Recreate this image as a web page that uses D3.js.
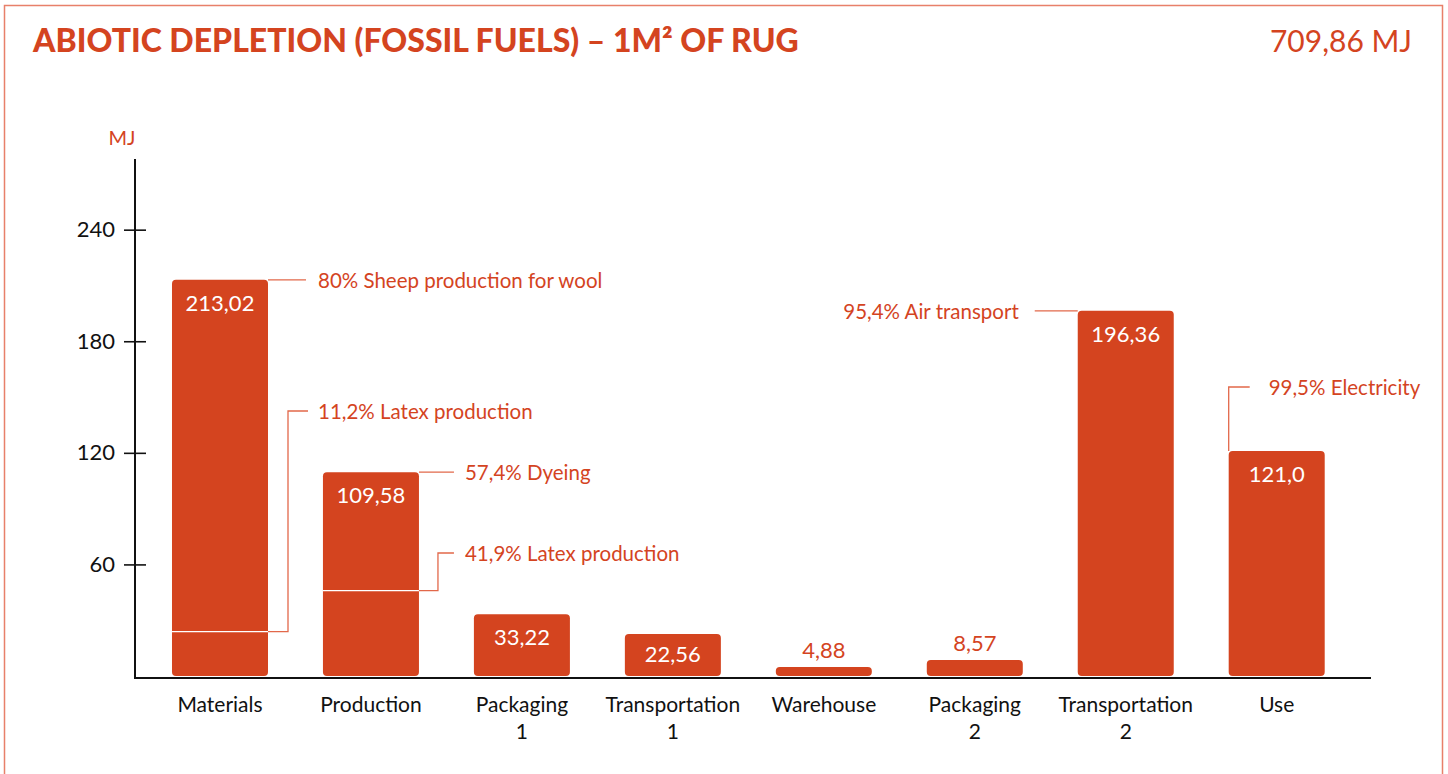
<!DOCTYPE html>
<html>
<head>
<meta charset="utf-8">
<script src="https://cdn.jsdelivr.net/npm/d3@7"></script>
<style>
    body { margin: 0; background: #fff; }
    svg { display: block; font-family: Lato, "Open Sans", sans-serif; }
</style>
</head>
<body>
<svg width="1448" height="774"></svg>
<script>
// data
const categories = ["Materials", "Production", "Packaging 1", "Transportation 1", "Warehouse", "Packaging 2", "Transportation 2", "Use"]
const values = [213.02, 109.58, 33.22, 22.56, 4.88, 8.57, 196.36, 121.0]
const valueLabels = ["213,02", "109,58", "33,22", "22,56", "4,88", "8,57", "196,36", "121,0"]
const yTicks = [60, 120, 180, 240]

const noteCategories = ["Materials", "Materials", "Production", "Production", "Transportation 2", "Use"]
const noteShares = [80, 11.2, 57.4, 41.9, 95.4, 99.5]
const noteTexts = ["80% Sheep production for wool", "11,2% Latex production", "57,4% Dyeing", "41,9% Latex production", "95,4% Air transport", "99,5% Electricity"]

const title = "ABIOTIC DEPLETION (FOSSIL FUELS) – 1M² OF RUG"
const total = "709,86 MJ"

const red = "#d4441f",
    lineRed = "#e2684a",
    width = 1448,
    height = 774

const x = d3.scaleBand()
    .domain(categories)
    .range([141.8, 1354.9])
    .paddingInner(0.364)
    .paddingOuter(0.2)

const y = d3.scaleLinear()
    .domain([0, 278])
    .range([676, 159])

const svg = d3.select("svg")
    .attr("viewBox", [0, 0, width, height])

// frame
svg.append("path")
    .attr("d", "M4.5,780 V5.5 H1442.5 V780")
    .attr("fill", "none")
    .attr("stroke", "#e8806a")
    .attr("stroke-width", 1.5)

svg.append("text")
    .attr("x", 33)
    .attr("y", 52)
    .attr("fill", red)
    .attr("font-size", 32)
    .attr("font-weight", 900)
    .text(title)

svg.append("text")
    .attr("x", 1412)
    .attr("y", 52)
    .attr("text-anchor", "end")
    .attr("fill", red)
    .attr("font-size", 30)
    .text(total)

// bars
svg.append("g")
    .attr("class", "bars")
    .attr("fill", red)
    .selectAll("rect")
    .data(values)
    .join("rect")
    .attr("x", (d, i) => x(categories[i]))
    .attr("y", d => y(d))
    .attr("width", x.bandwidth())
    .attr("height", d => y(0) - y(d))
    .attr("rx", 4)

// value labels
svg.append("g")
    .attr("font-size", 22)
    .attr("text-anchor", "middle")
    .selectAll("text")
    .data(values)
    .join("text")
    .attr("x", (d, i) => x(categories[i]) + x.bandwidth() / 2)
    .attr("y", d => d > 15 ? Math.min(y(d) + 31, y(0) - 14) : y(d) - 9)
    .attr("fill", d => d > 15 ? "#fff" : red)
    .text((d, i) => valueLabels[i])

// axes
const yAxis = g => g
    .attr("transform", `translate(135,0)`)
    .call(d3.axisLeft(y).tickValues(yTicks).tickSize(11).tickPadding(9))
    .call(g => g.select(".domain").remove())
    .call(g => g.selectAll(".tick line").attr("x2", -11).attr("x1", 11).attr("stroke", "#111").attr("stroke-width", 1.6))
    .call(g => g.selectAll(".tick text").attr("font-size", 22).attr("fill", "#111").attr("font-family", "Lato, sans-serif"))

svg.append("g").attr("class", "y-axis").call(yAxis)

svg.append("path")
    .attr("d", `M135,${y.range()[1]} V678 H1371`)
    .attr("fill", "none")
    .attr("stroke", "#111")
    .attr("stroke-width", 2)

svg.append("text")
    .attr("x", 122)
    .attr("y", 145)
    .attr("text-anchor", "middle")
    .attr("fill", red)
    .attr("font-size", 20)
    .text("MJ")

// category labels
svg.append("g")
    .attr("font-size", 21)
    .attr("fill", "#111")
    .attr("text-anchor", "middle")
    .selectAll("text")
    .data(categories)
    .join("text")
    .attr("x", d => x(d) + x.bandwidth() / 2)
    .attr("y", 712)
    .each(function (d) {
        const parts = d.match(/^(.*) (\d)$/)
        const lines = parts ? [parts[1], parts[2]] : [d]
        d3.select(this).selectAll("tspan")
            .data(lines)
            .join("tspan")
            .attr("x", x(d) + x.bandwidth() / 2)
            .attr("dy", (l, j) => j ? 27 : 0)
            .text(l => l)
    })

// callouts
const noteLayout = [
    { kind: "top-right", out: 38, gap: 12 },
    { kind: "split", labelY: 411, out: 20, run: 20, gap: 10 },
    { kind: "top-right", out: 35, gap: 11 },
    { kind: "split", labelY: 553, out: 19, run: 16, gap: 11 },
    { kind: "top-left", out: 43, gap: 16 },
    { kind: "up-left", labelY: 387, run: 21, gap: 19 }
]

const notes = svg.append("g").attr("class", "notes")

noteTexts.forEach((t, i) => {
    const cat = noteCategories[i],
        v = values[categories.indexOf(cat)],
        x0 = x(cat),
        x1 = x0 + x.bandwidth(),
        top = y(v),
        L = noteLayout[i]
    let path, tx, ty, anchor = "start"

    if (L.kind === "top-right") {
        path = `M${x1},${top} H${x1 + L.out}`
        tx = x1 + L.out + L.gap
        ty = top
    } else if (L.kind === "top-left") {
        path = `M${x0},${top} H${x0 - L.out}`
        tx = x0 - L.out - L.gap
        ty = top
        anchor = "end"
    } else if (L.kind === "split") {
        const sy = y(v * noteShares[i] / 100)
        notes.append("line")
            .attr("x1", x0).attr("x2", x1)
            .attr("y1", sy).attr("y2", sy)
            .attr("stroke", "#fff")
            .attr("stroke-width", 1.2)
        path = `M${x1},${sy} H${x1 + L.out} V${L.labelY} H${x1 + L.out + L.run}`
        tx = x1 + L.out + L.run + L.gap
        ty = L.labelY
    } else {
        path = `M${x0},${top} V${L.labelY} H${x0 + L.run}`
        tx = x0 + L.run + L.gap
        ty = L.labelY
    }

    notes.append("path")
        .attr("d", path)
        .attr("fill", "none")
        .attr("stroke", lineRed)
        .attr("stroke-width", 1.3)

    notes.append("text")
        .attr("x", tx)
        .attr("y", ty + 8)
        .attr("text-anchor", anchor)
        .attr("fill", red)
        .attr("font-size", 20.5)
        .text(t)
})
</script>
</body>
</html>
